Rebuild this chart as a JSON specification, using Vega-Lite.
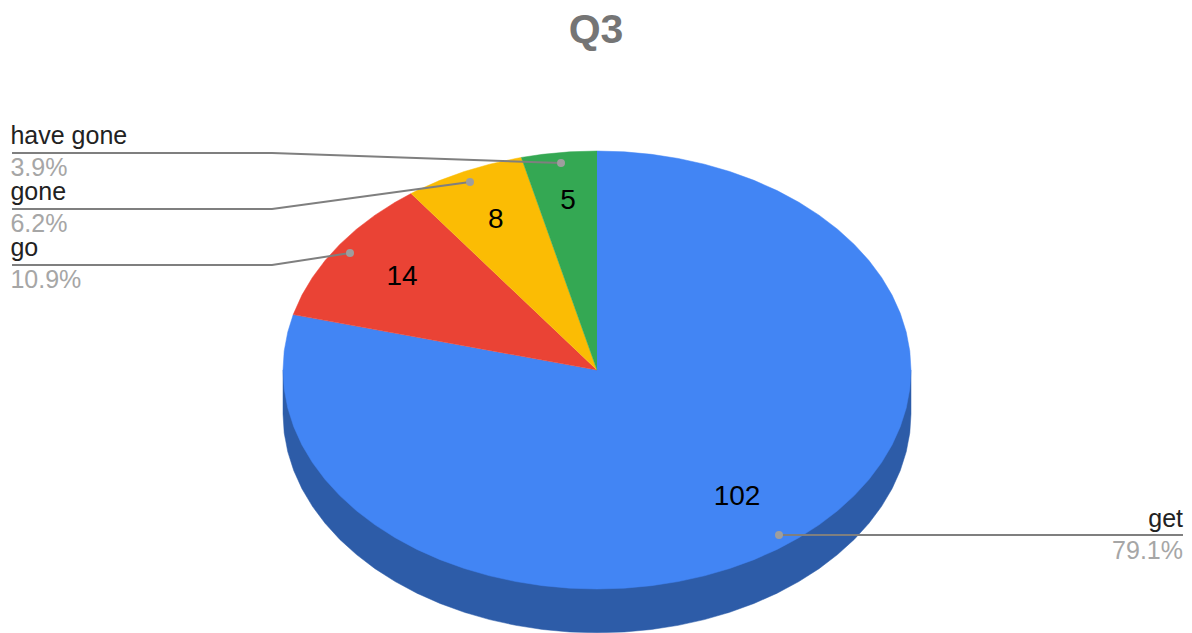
{
"$schema":"https://vega.github.io/schema/vega-lite/v6.json",
"width":1192,"height":633,"padding":0,"autosize":"none","background":"white",
"title":{"text":"Q3","font":"Liberation Sans","fontSize":41,"fontWeight":"bold","color":"#757575","anchor":"middle","offset":-84,"baseline":"alphabetic"},
"config":{"view":{"stroke":null}},
"datasets":{
"shape":[
{"slice":"wall","i":0,"x":1,"y":0},{"slice":"wall","i":1,"x":1,"y":-0.2},{"slice":"wall","i":2,"x":0.9962,"y":-0.2872},{"slice":"wall","i":3,"x":0.9848,"y":-0.3736},{"slice":"wall","i":4,"x":0.9659,"y":-0.4588},{"slice":"wall","i":5,"x":0.9397,"y":-0.542},{"slice":"wall","i":6,"x":0.9063,"y":-0.6226},{"slice":"wall","i":7,"x":0.866,"y":-0.7},{"slice":"wall","i":8,"x":0.8192,"y":-0.7736},{"slice":"wall","i":9,"x":0.766,"y":-0.8428},{"slice":"wall","i":10,"x":0.7071,"y":-0.9071},{"slice":"wall","i":11,"x":0.6428,"y":-0.966},{"slice":"wall","i":12,"x":0.5736,"y":-1.0192},{"slice":"wall","i":13,"x":0.5,"y":-1.066},{"slice":"wall","i":14,"x":0.4226,"y":-1.1063},{"slice":"wall","i":15,"x":0.342,"y":-1.1397},{"slice":"wall","i":16,"x":0.2588,"y":-1.1659},{"slice":"wall","i":17,"x":0.1736,"y":-1.1848},{"slice":"wall","i":18,"x":0.0872,"y":-1.1962},{"slice":"wall","i":19,"x":0,"y":-1.2},{"slice":"wall","i":20,"x":-0.0872,"y":-1.1962},{"slice":"wall","i":21,"x":-0.1736,"y":-1.1848},{"slice":"wall","i":22,"x":-0.2588,"y":-1.1659},{"slice":"wall","i":23,"x":-0.342,"y":-1.1397},{"slice":"wall","i":24,"x":-0.4226,"y":-1.1063},{"slice":"wall","i":25,"x":-0.5,"y":-1.066},{"slice":"wall","i":26,"x":-0.5736,"y":-1.0192},{"slice":"wall","i":27,"x":-0.6428,"y":-0.966},{"slice":"wall","i":28,"x":-0.7071,"y":-0.9071},{"slice":"wall","i":29,"x":-0.766,"y":-0.8428},{"slice":"wall","i":30,"x":-0.8192,"y":-0.7736},{"slice":"wall","i":31,"x":-0.866,"y":-0.7},{"slice":"wall","i":32,"x":-0.9063,"y":-0.6226},{"slice":"wall","i":33,"x":-0.9397,"y":-0.542},{"slice":"wall","i":34,"x":-0.9659,"y":-0.4588},{"slice":"wall","i":35,"x":-0.9848,"y":-0.3736},{"slice":"wall","i":36,"x":-0.9962,"y":-0.2872},{"slice":"wall","i":37,"x":-1,"y":-0.2},{"slice":"wall","i":38,"x":-1,"y":0},
{"slice":"get","i":0,"x":0,"y":0},{"slice":"get","i":1,"x":0,"y":1},{"slice":"get","i":2,"x":0.0872,"y":0.9962},{"slice":"get","i":3,"x":0.1736,"y":0.9848},{"slice":"get","i":4,"x":0.2588,"y":0.9659},{"slice":"get","i":5,"x":0.342,"y":0.9397},{"slice":"get","i":6,"x":0.4226,"y":0.9063},{"slice":"get","i":7,"x":0.5,"y":0.866},{"slice":"get","i":8,"x":0.5736,"y":0.8192},{"slice":"get","i":9,"x":0.6428,"y":0.766},{"slice":"get","i":10,"x":0.7071,"y":0.7071},{"slice":"get","i":11,"x":0.766,"y":0.6428},{"slice":"get","i":12,"x":0.8192,"y":0.5736},{"slice":"get","i":13,"x":0.866,"y":0.5},{"slice":"get","i":14,"x":0.9063,"y":0.4226},{"slice":"get","i":15,"x":0.9397,"y":0.342},{"slice":"get","i":16,"x":0.9659,"y":0.2588},{"slice":"get","i":17,"x":0.9848,"y":0.1736},{"slice":"get","i":18,"x":0.9962,"y":0.0872},{"slice":"get","i":19,"x":1,"y":0},{"slice":"get","i":20,"x":0.9962,"y":-0.0872},{"slice":"get","i":21,"x":0.9848,"y":-0.1736},{"slice":"get","i":22,"x":0.9659,"y":-0.2588},{"slice":"get","i":23,"x":0.9397,"y":-0.342},{"slice":"get","i":24,"x":0.9063,"y":-0.4226},{"slice":"get","i":25,"x":0.866,"y":-0.5},{"slice":"get","i":26,"x":0.8192,"y":-0.5736},{"slice":"get","i":27,"x":0.766,"y":-0.6428},{"slice":"get","i":28,"x":0.7071,"y":-0.7071},{"slice":"get","i":29,"x":0.6428,"y":-0.766},{"slice":"get","i":30,"x":0.5736,"y":-0.8192},{"slice":"get","i":31,"x":0.5,"y":-0.866},{"slice":"get","i":32,"x":0.4226,"y":-0.9063},{"slice":"get","i":33,"x":0.342,"y":-0.9397},{"slice":"get","i":34,"x":0.2588,"y":-0.9659},{"slice":"get","i":35,"x":0.1736,"y":-0.9848},{"slice":"get","i":36,"x":0.0872,"y":-0.9962},{"slice":"get","i":37,"x":0,"y":-1},{"slice":"get","i":38,"x":-0.0872,"y":-0.9962},{"slice":"get","i":39,"x":-0.1736,"y":-0.9848},{"slice":"get","i":40,"x":-0.2588,"y":-0.9659},{"slice":"get","i":41,"x":-0.342,"y":-0.9397},{"slice":"get","i":42,"x":-0.4226,"y":-0.9063},{"slice":"get","i":43,"x":-0.5,"y":-0.866},{"slice":"get","i":44,"x":-0.5736,"y":-0.8192},{"slice":"get","i":45,"x":-0.6428,"y":-0.766},{"slice":"get","i":46,"x":-0.7071,"y":-0.7071},{"slice":"get","i":47,"x":-0.766,"y":-0.6428},{"slice":"get","i":48,"x":-0.8192,"y":-0.5736},{"slice":"get","i":49,"x":-0.866,"y":-0.5},{"slice":"get","i":50,"x":-0.9063,"y":-0.4226},{"slice":"get","i":51,"x":-0.9397,"y":-0.342},{"slice":"get","i":52,"x":-0.9659,"y":-0.2588},{"slice":"get","i":53,"x":-0.9848,"y":-0.1736},{"slice":"get","i":54,"x":-0.9962,"y":-0.0872},{"slice":"get","i":55,"x":-1,"y":0},{"slice":"get","i":56,"x":-0.9962,"y":0.0872},{"slice":"get","i":57,"x":-0.9848,"y":0.1736},{"slice":"get","i":58,"x":-0.9675,"y":0.2529},
{"slice":"go","i":0,"x":0,"y":0},{"slice":"go","i":1,"x":-0.9675,"y":0.2529},{"slice":"go","i":2,"x":-0.9397,"y":0.342},{"slice":"go","i":3,"x":-0.9063,"y":0.4226},{"slice":"go","i":4,"x":-0.866,"y":0.5},{"slice":"go","i":5,"x":-0.8192,"y":0.5736},{"slice":"go","i":6,"x":-0.766,"y":0.6428},{"slice":"go","i":7,"x":-0.7071,"y":0.7071},{"slice":"go","i":8,"x":-0.6428,"y":0.766},{"slice":"go","i":9,"x":-0.592,"y":0.8059},
{"slice":"gone","i":0,"x":0,"y":0},{"slice":"gone","i":1,"x":-0.592,"y":0.8059},{"slice":"gone","i":2,"x":-0.5736,"y":0.8192},{"slice":"gone","i":3,"x":-0.5,"y":0.866},{"slice":"gone","i":4,"x":-0.4226,"y":0.9063},{"slice":"gone","i":5,"x":-0.342,"y":0.9397},{"slice":"gone","i":6,"x":-0.2588,"y":0.9659},{"slice":"gone","i":7,"x":-0.241,"y":0.9705},
{"slice":"have gone","i":0,"x":0,"y":0},{"slice":"have gone","i":1,"x":-0.241,"y":0.9705},{"slice":"have gone","i":2,"x":-0.1736,"y":0.9848},{"slice":"have gone","i":3,"x":-0.0872,"y":0.9962},{"slice":"have gone","i":4,"x":0,"y":1}
],
"leaders":[
{"name":"have gone","i":0,"x":-1.863,"y":0.9909},{"name":"have gone","i":1,"x":-1.035,"y":0.9909},{"name":"have gone","i":2,"x":-0.1146,"y":0.9452},
{"name":"gone","i":0,"x":-1.863,"y":0.7352},{"name":"gone","i":1,"x":-1.035,"y":0.7352},{"name":"gone","i":2,"x":-0.4045,"y":0.8584},
{"name":"go","i":0,"x":-1.863,"y":0.4795},{"name":"go","i":1,"x":-1.035,"y":0.4795},{"name":"go","i":2,"x":-0.7866,"y":0.5342},
{"name":"get","i":0,"x":1.8662,"y":-0.7534},{"name":"get","i":1,"x":0.5796,"y":-0.7534}
],
"dots":[
{"name":"have gone","x":-0.1146,"y":0.9452},{"name":"gone","x":-0.4045,"y":0.8584},{"name":"go","x":-0.7866,"y":0.5342},{"name":"get","x":0.5796,"y":-0.7534}
],
"values":[
{"name":"get","value":102,"x":0.446,"y":-0.578},{"name":"go","value":14,"x":-0.621,"y":0.423},{"name":"gone","value":8,"x":-0.322,"y":0.684},{"name":"have gone","value":5,"x":-0.092,"y":0.771}
],
"names":[
{"name":"have gone","share":"3.9%","x":-1.868,"yName":1.032,"yShare":0.886,"side":"left"},
{"name":"gone","share":"6.2%","x":-1.868,"yName":0.776,"yShare":0.63,"side":"left"},
{"name":"go","share":"10.9%","x":-1.868,"yName":0.521,"yShare":0.375,"side":"left"},
{"name":"get","share":"79.1%","x":1.8662,"yName":-0.717,"yShare":-0.863,"side":"right"}
]
},
"encoding":{
"x":{"field":"x","type":"quantitative","axis":null,"scale":{"domain":[-1.9013,1.8949],"nice":false,"zero":false}},
"y":{"field":"y","type":"quantitative","axis":null,"scale":{"domain":[-1.2009,1.6895],"nice":false,"zero":false}}
},
"layer":[
{"data":{"name":"shape"},
"mark":{"type":"line","strokeWidth":0.5,"clip":true},
"encoding":{
"order":{"field":"i","type":"quantitative"},
"stroke":{"field":"slice","type":"nominal","legend":null,"scale":{"domain":["wall","get","go","gone","have gone"],"range":["#2d5ca8","#4285f4","#ea4335","#fbbc04","#34a853"]}},
"fill":{"field":"slice","type":"nominal","legend":null,"scale":{"domain":["wall","get","go","gone","have gone"],"range":["#2d5ca8","#4285f4","#ea4335","#fbbc04","#34a853"]}}
}},
{"data":{"name":"values"},
"mark":{"type":"text","font":"Liberation Sans","fontSize":28,"color":"#000000","align":"center","baseline":"middle"},
"encoding":{"text":{"field":"value","type":"quantitative"}}},
{"data":{"name":"leaders"},
"mark":{"type":"line","color":"#7f7f7f","strokeWidth":2},
"encoding":{"detail":{"field":"name","type":"nominal"},"order":{"field":"i","type":"quantitative"}}},
{"data":{"name":"dots"},
"mark":{"type":"point","filled":true,"color":"#9e9e9e","opacity":1,"size":64}},
{"data":{"name":"names"},"transform":[{"filter":"datum.side==='left'"}],
"layer":[
{"mark":{"type":"text","font":"Liberation Sans","fontSize":25,"color":"#222222","align":"left","baseline":"alphabetic"},
"encoding":{"y":{"field":"yName","type":"quantitative"},"text":{"field":"name","type":"nominal"}}},
{"mark":{"type":"text","font":"Liberation Sans","fontSize":25,"color":"#a6a6a6","align":"left","baseline":"alphabetic"},
"encoding":{"y":{"field":"yShare","type":"quantitative"},"text":{"field":"share","type":"nominal"}}}
]},
{"data":{"name":"names"},"transform":[{"filter":"datum.side==='right'"}],
"layer":[
{"mark":{"type":"text","font":"Liberation Sans","fontSize":25,"color":"#222222","align":"right","baseline":"alphabetic"},
"encoding":{"y":{"field":"yName","type":"quantitative"},"text":{"field":"name","type":"nominal"}}},
{"mark":{"type":"text","font":"Liberation Sans","fontSize":25,"color":"#a6a6a6","align":"right","baseline":"alphabetic"},
"encoding":{"y":{"field":"yShare","type":"quantitative"},"text":{"field":"share","type":"nominal"}}}
]}
]
}
